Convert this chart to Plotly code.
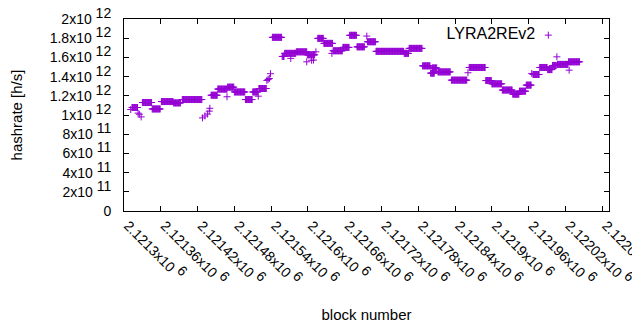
import plotly.graph_objects as go

# Runs of consecutive blocks sharing one hashrate value
run_first_block = [
    2121311, 2121313, 2121323, 2121325, 2121328, 2121330, 2121346, 2121361, 2121381, 2121395,
    2121428, 2121432, 2121436, 2121439, 2121440, 2121442, 2121453, 2121468, 2121469, 2121480,
    2121498, 2121510, 2121519, 2121520, 2121533, 2121535, 2121537, 2121539, 2121542, 2121558,
    2121562, 2121572, 2121581, 2121598, 2121599, 2121606, 2121609, 2121613, 2121616, 2121626,
    2121639, 2121641, 2121657, 2121668, 2121680, 2121696, 2121697, 2121711, 2121757, 2121765,
    2121787, 2121800, 2121803, 2121812, 2121834, 2121861, 2121863, 2121890, 2121900, 2121917,
    2121934, 2121945, 2121956, 2121965, 2121967, 2121978, 2121991, 2121999, 2122006, 2122007,
    2122026, 2122025,
]
run_last_block = [
    2121311, 2121322, 2121323, 2121325, 2121328, 2121345, 2121359, 2121380, 2121392, 2121427,
    2121428, 2121432, 2121436, 2121439, 2121440, 2121452, 2121468, 2121468, 2121479, 2121497,
    2121509, 2121518, 2121519, 2121532, 2121533, 2121535, 2121537, 2121539, 2121557, 2121561,
    2121580, 2121572, 2121598, 2121598, 2121611, 2121606, 2121609, 2121613, 2121625, 2121640,
    2121639, 2121656, 2121667, 2121679, 2121692, 2121696, 2121710, 2121756, 2121764, 2121786,
    2121799, 2121806, 2121810, 2121832, 2121859, 2121861, 2121889, 2121899, 2121916, 2121933,
    2121944, 2121955, 2121964, 2121965, 2121977, 2121990, 2121998, 2122005, 2122006, 2122024,
    2122026, 2122043,
]
run_hashrate = [
    1.057e12, 1.078e12, 1.020e12, 1.008e12, 0.980e12, 1.130e12, 1.063e12, 1.140e12, 1.126e12, 1.161e12,
    0.970e12, 0.990e12, 1.010e12, 1.040e12, 1.070e12, 1.206e12, 1.270e12, 1.190e12, 1.290e12, 1.240e12,
    1.161e12, 1.240e12, 1.196e12, 1.276e12, 1.360e12, 1.370e12, 1.380e12, 1.430e12, 1.809e12, 1.610e12,
    1.642e12, 1.590e12, 1.658e12, 1.554e12, 1.627e12, 1.570e12, 1.572e12, 1.658e12, 1.798e12, 1.746e12,
    1.642e12, 1.669e12, 1.704e12, 1.830e12, 1.710e12, 1.822e12, 1.763e12, 1.663e12, 1.642e12, 1.694e12,
    1.512e12, 1.436e12, 1.490e12, 1.449e12, 1.363e12, 1.440e12, 1.495e12, 1.359e12, 1.325e12, 1.260e12,
    1.217e12, 1.248e12, 1.311e12, 1.433e12, 1.422e12, 1.495e12, 1.473e12, 1.516e12, 1.606e12, 1.527e12,
    1.467e12, 1.554e12,
]

x_tick_blocks = [2121300, 2121360, 2121420, 2121480, 2121540, 2121600, 2121660,
                 2121720, 2121780, 2121840, 2121900, 2121960, 2122020, 2122080]
x_tick_mantissa = ["2.1213", "2.12136", "2.12142", "2.12148", "2.12154", "2.1216", "2.12166",
                   "2.12172", "2.12178", "2.12184", "2.1219", "2.12196", "2.12202", "2.12208"]
x_tick_exponent = 6

y_tick_values = [0, 2e11, 4e11, 6e11, 8e11, 1e12, 1.2e12, 1.4e12, 1.6e12, 1.8e12, 2e12]
y_tick_mantissa = ["0", "2", "4", "6", "8", "1", "1.2", "1.4", "1.6", "1.8", "2"]
y_tick_exponent = [None, 11, 11, 11, 11, 12, 12, 12, 12, 12, 12]

series_name = "LYRA2REv2"
COLOR = "#9400d3"
FONT = "Liberation Sans, Arial, sans-serif"

# expand each run into its per-block points
blocks, rates = [], []
for first, last, rate in zip(run_first_block, run_last_block, run_hashrate):
    for b in range(first, last + 1):
        blocks.append(b)
        rates.append(rate)


def sci(m, e):
    if e is None:
        return m
    return f"{m}x10 <sup><span style='font-size:14px'>{e}</span></sup>"


fig = go.Figure()
fig.add_trace(go.Scatter(
    x=blocks, y=rates, mode="markers", name=" ",
    marker=dict(symbol="cross-thin", size=5, color=COLOR,
                line=dict(color=COLOR, width=1)),
    showlegend=True,
))

axis_common = dict(
    showline=True, linecolor="black", linewidth=1, mirror="ticks",
    ticks="inside", ticklen=5, tickcolor="black", tickwidth=1,
    showgrid=False, zeroline=False, automargin=False,
    ticklabeloverflow="allow",
    tickfont=dict(family=FONT, size=14, color="black"),
)

fig.update_xaxes(
    range=[2121300, 2122091],
    tickmode="array", tickvals=x_tick_blocks,
    ticktext=[sci(m, x_tick_exponent) for m in x_tick_mantissa],
    tickangle=45, ticklabelshift=4,
    title=dict(text="block number", font=dict(family=FONT, size=15, color="black"), standoff=21),
    **axis_common,
)
fig.update_yaxes(
    range=[0, 2e12],
    tickmode="array", tickvals=y_tick_values,
    ticktext=[sci(m, e) for m, e in zip(y_tick_mantissa, y_tick_exponent)],
    ticklabelstandoff=9,
    title=dict(text="hashrate [h/s]", font=dict(family=FONT, size=15, color="black"), standoff=25),
    **axis_common,
)

# the page body has an 8px default margin, so the figure is shifted by 8px;
# the plot area is kept at x 124..609, y 19..211 of the 640x330 page
fig.update_layout(
    width=632, height=322,
    margin=dict(l=116, r=31, t=11, b=119, autoexpand=False),
    paper_bgcolor="white", plot_bgcolor="white",
    font=dict(family=FONT, size=14, color="black"),
    legend=dict(
        title=dict(text=series_name, side="left", font=dict(family=FONT, size=16, color="black")),
        x=0.661, xanchor="left", y=1.004, yanchor="top",
        indentation=-15,
        bgcolor="rgba(0,0,0,0)", borderwidth=0,
        font=dict(family=FONT, size=16, color="black"),
    ),
)

fig.write_html("out.html")
